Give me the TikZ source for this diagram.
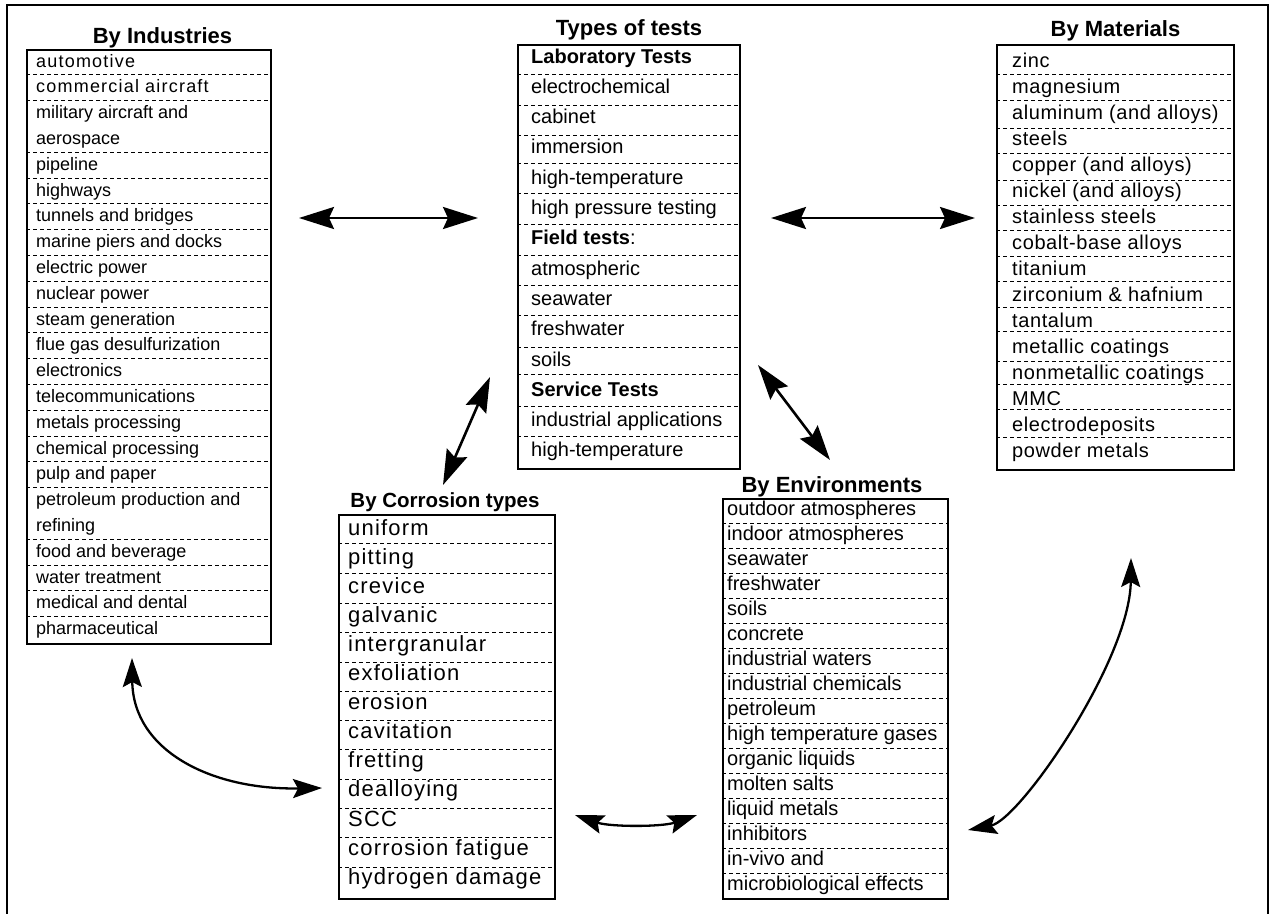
\documentclass[tikz,border=0pt]{standalone}
\usepackage{fontspec}
\setmainfont{Liberation Sans}
\usetikzlibrary{arrows.meta}
\tikzset{
  box/.style={draw, line width=1.6pt, inner sep=0pt, anchor=north west},
  sepline/.style={dash pattern=on 4pt off 3pt, line width=1pt},
  ttl/.style={font=\fontsize{22}{22}\selectfont\bfseries, anchor=base, inner sep=0pt},
  itm/.style={anchor=base west, inner sep=0pt},
  frameline/.style={line width=2pt},
  biga/.style={line width=2.6pt, {Stealth[length=35pt,width=22pt,inset=5pt]}-{Stealth[length=35pt,width=22pt,inset=5pt]}},
  cura/.style={line width=2.3pt, {Stealth[length=29pt,width=19pt,inset=5pt]}-{Stealth[length=29pt,width=19pt,inset=5pt]}}
}
\begin{document}
\begin{tikzpicture}[x=1pt,y=-1pt]
\useasboundingbox (0,0) rectangle (1271,913);
% outer frame (open at bottom)
\draw[frameline] (7,930) -- (7,5) -- (1268,5) -- (1268,930);

% ---------- By Industries ----------
\node[ttl] (indT) at (162.5,43) {By Industries};
\foreach \k in {0,1,3,4,5,6,7,8,9,10,11,12,13,14,15,16,18,19,20,21}
  \draw[sepline] (26,{49+25.8*(\k+1)}) -- (270,{49+25.8*(\k+1)});
\node[box, minimum width=244pt, minimum height=594pt] (ind) at (26,49) {};
\foreach \t [count=\i from 0] in {%
  {\addfontfeature{LetterSpace=6.7}automotive},
  {\addfontfeature{LetterSpace=6.7}commercial aircraft},
  military aircraft and, aerospace, pipeline, highways, tunnels and bridges,
  marine piers and docks, electric power, nuclear power, steam generation,
  flue gas desulfurization, electronics, telecommunications, metals processing,
  chemical processing, pulp and paper, petroleum production and, refining,
  food and beverage, water treatment, medical and dental, pharmaceutical}
  \node[itm, font=\fontsize{18}{18}\selectfont] (ind-\i) at (36,{67+25.8*\i}) {\t};

% ---------- Types of tests ----------
\node[ttl] (tstT) at (629,35) {Types of tests};
\foreach \y in {74,105,135,163,193,224,255,285,315,347,374,406,436}
  \draw[sepline] (517,\y) -- (739,\y);
\node[box, minimum width=222pt, minimum height=424pt] (tst) at (517,44) {};
\foreach \t [count=\i from 0] in {%
  \textbf{Laboratory Tests}, electrochemical, cabinet, immersion, high-temperature,
  high pressure testing, {\textbf{Field tests}:}, atmospheric, seawater, freshwater,
  soils, \textbf{Service Tests}, industrial applications, high-temperature}
  \node[itm, font=\fontsize{20}{20}\selectfont] (tst-\i) at (531,{63+30.3*\i}) {\t};

% ---------- By Materials ----------
\node[ttl] (matT) at (1115.5,36.7) {By Materials};
\foreach \y in {74,100,128,153,180,205.4,230.8,256.2,281.6,307,331,361,384,409,437}
  \draw[sepline] (996,\y) -- (1233,\y);
\node[box, minimum width=237pt, minimum height=425pt] (mat) at (996,44) {};
\foreach \t [count=\i from 0] in {%
  zinc, magnesium, aluminum (and alloys), steels, copper (and alloys),
  nickel (and alloys), stainless steels, cobalt-base alloys, titanium,
  zirconium \& hafnium, tantalum, metallic coatings, nonmetallic coatings,
  MMC, electrodeposits, powder metals}
  \node[itm, font=\fontsize{20}{20}\selectfont\addfontfeature{LetterSpace=3}] (mat-\i) at (1012,{67+26*\i}) {\t};

% ---------- By Corrosion types ----------
\node[ttl, font=\fontsize{20.5}{20.5}\selectfont\bfseries] (corT) at (445,507) {By Corrosion types};
\foreach \y in {543,573,603,632,662,691,720,749,779,808,837,867}
  \draw[sepline] (338,\y) -- (554,\y);
\node[box, minimum width=216pt, minimum height=384pt] (cor) at (338,514) {};
\foreach \t [count=\i from 0] in {%
  uniform, pitting, crevice, galvanic, intergranular, exfoliation, erosion,
  cavitation, fretting, dealloying, SCC, corrosion fatigue, hydrogen damage}
  \node[itm, font=\fontsize{22}{22}\selectfont\addfontfeature{LetterSpace=5.5}] (cor-\i) at (348,{535+29.1*\i}) {\t};

% ---------- By Environments ----------
\node[ttl] (envT) at (832,492) {By Environments};
\foreach \k in {1,...,15}
  \draw[sepline] (722,{498+25*\k}) -- (947,{498+25*\k});
\node[box, minimum width=225pt, minimum height=400pt] (env) at (722,498) {};
\foreach \t [count=\i from 0] in {%
  outdoor atmospheres, indoor atmospheres, seawater, freshwater, soils, concrete,
  industrial waters, industrial chemicals, petroleum, high temperature gases,
  organic liquids, molten salts, liquid metals, inhibitors, in-vivo and,
  microbiological effects}
  \node[itm, font=\fontsize{20}{20}\selectfont] (env-\i) at (727,{515+25*\i}) {\t};

% ---------- connectors ----------
\coordinate (a1s) at (299,218);  \coordinate (a1e) at (478,218);
\coordinate (a2s) at (771,218);  \coordinate (a2e) at (975,218);
\coordinate (a3s) at (490,377);  \coordinate (a3e) at (443,485);
\coordinate (a4s) at (758,365);  \coordinate (a4e) at (830,460);
\coordinate (a5s) at (132,658);  \coordinate (a5e) at (322,788);
\coordinate (a6s) at (575,815);  \coordinate (a6e) at (697,815);
\coordinate (a7s) at (1131,558); \coordinate (a7e) at (968,830);

\draw[biga] (a1s) -- (a1e);
\draw[biga] (a2s) -- (a2e);
\draw[biga] (a3s) -- (a3e);
\draw[biga] (a4s) -- (a4e);
\draw[cura] (a5s) .. controls (133,750) and (210,790) .. (a5e);
\draw[cura] (a6s) .. controls (610,827) and (662,827) .. (a6e);
\draw[cura] (a7s) .. controls (1130,660) and (1020,820) .. (a7e);
\end{tikzpicture}
\end{document}
